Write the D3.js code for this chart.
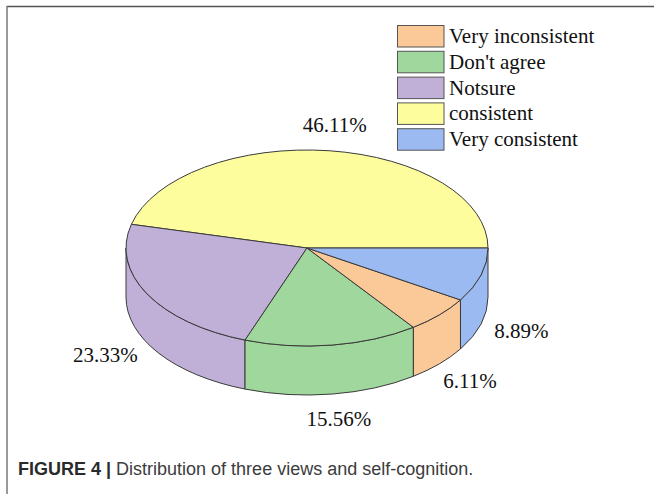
<!DOCTYPE html>
<html>
<head>
<meta charset="utf-8">
<script src="https://cdn.jsdelivr.net/npm/d3@7/dist/d3.min.js"></script>
<style>
  html, body { margin: 0; padding: 0; background: #fff; }
  svg { display: block; }
</style>
</head>
<body>
<svg id="chart" width="654" height="494"></svg>
<script>
// Slice order around the pie (counter-clockwise from 3 o'clock)
const categories = ["consistent", "Notsure", "Don't agree", "Very inconsistent", "Very consistent"];
const values = [46.11, 23.33, 15.56, 6.11, 8.89];
const valueLabels = ["46.11%", "23.33%", "15.56%", "6.11%", "8.89%"];
// Legend order
const legendOrder = ["Very inconsistent", "Don't agree", "Notsure", "consistent", "Very consistent"];
const palette = ["#fdfd9e", "#c0b0d8", "#9fd79c", "#fbc898", "#9bbaf1"];

const svg = d3.select("#chart");
const W = 654, H = 494;

// frame
svg.append("line").attr("x1", 7).attr("y1", 6.5).attr("x2", W).attr("y2", 6.5)
  .attr("stroke", "#555").attr("stroke-width", 1.5);
svg.append("line").attr("x1", 7).attr("y1", 6).attr("x2", 7).attr("y2", H)
  .attr("stroke", "#777").attr("stroke-width", 1.5);

const color = d3.scaleOrdinal().domain(categories).range(palette);

// elliptical projection of the disc
const cx = 307, cy = 248, rx = 181, ry = 98, depth = 49;
const sx = d3.scaleLinear().domain([-1, 1]).range([cx - rx, cx + rx]);
const sy = d3.scaleLinear().domain([-1, 1]).range([cy + ry, cy - ry]);
const pt = (t, dz = 0) => [sx(Math.cos(t)), sy(Math.sin(t)) + dz];

const pie = d3.pie().sort(null).value(d => d)
  .startAngle(Math.PI / 2).endAngle(Math.PI / 2 - 2 * Math.PI);
const arcs = pie(values).map((a, i) => ({
  cat: categories[i],
  label: valueLabels[i],
  t0: Math.PI / 2 - a.startAngle,
  t1: Math.PI / 2 - a.endAngle
}));

const stroke = "#3a3a3a";
const g = svg.append("g");

// side walls (front half only)
arcs.forEach(a => {
  const s0 = Math.max(a.t0, Math.PI), s1 = Math.min(a.t1, 2 * Math.PI);
  if (s1 <= s0) return;
  const p0 = pt(s0), p1 = pt(s1), q1 = pt(s1, depth), q0 = pt(s0, depth);
  const d = `M${p0}A${rx},${ry} 0 0 0 ${p1}L${q1}A${rx},${ry} 0 0 1 ${q0}Z`;
  g.append("path").attr("d", d).attr("fill", color(a.cat))
    .attr("stroke", stroke).attr("stroke-width", 1).attr("stroke-linejoin", "round");
});

// top faces
arcs.forEach(a => {
  const p0 = pt(a.t0), p1 = pt(a.t1);
  const large = (a.t1 - a.t0) > Math.PI ? 1 : 0;
  const d = `M${cx},${cy}L${p0}A${rx},${ry} 0 ${large} 0 ${p1}Z`;
  g.append("path").attr("d", d).attr("fill", color(a.cat))
    .attr("stroke", stroke).attr("stroke-width", 1).attr("stroke-linejoin", "round");
});

// value labels placed just outside each slice
const labelFont = "'Liberation Serif', 'Times New Roman', serif";
arcs.forEach(a => {
  const m = (a.t0 + a.t1) / 2;
  const front = Math.sin(m) < 0 ? depth : 0;
  const [px, py] = pt(m, front);
  const t = svg.append("text").text(a.label)
    .attr("font-family", labelFont).attr("font-size", 21).attr("fill", "#111");
  const w = t.node().getComputedTextLength();
  const lx = px + Math.cos(m) * (w / 2 + 15);
  const ly = py - Math.sin(m) * (7.5 + 18);
  t.attr("x", lx).attr("y", ly + 7).attr("text-anchor", "middle");
});

// legend
const leg = svg.append("g").attr("transform", "translate(397,25)");
legendOrder.forEach((c, i) => {
  const row = leg.append("g").attr("transform", `translate(0,${i * 25.8})`);
  row.append("rect").attr("x", 0.5).attr("y", 0.5).attr("width", 46.5).attr("height", 21.5)
    .attr("fill", color(c)).attr("stroke", "#555").attr("stroke-width", 1);
  row.append("text").attr("x", 52).attr("y", 18).text(c)
    .attr("font-family", labelFont).attr("font-size", 21).attr("fill", "#111");
});

// caption
const cap = svg.append("text").attr("x", 18).attr("y", 475)
  .attr("font-family", "'Liberation Sans', Arial, sans-serif").attr("font-size", 18).attr("fill", "#3c3c3c");
cap.append("tspan").attr("font-weight", "bold").attr("fill", "#2a2a2a").text("FIGURE 4 | ");
cap.append("tspan").text("Distribution of three views and self-cognition.");
</script>
</body>
</html>
